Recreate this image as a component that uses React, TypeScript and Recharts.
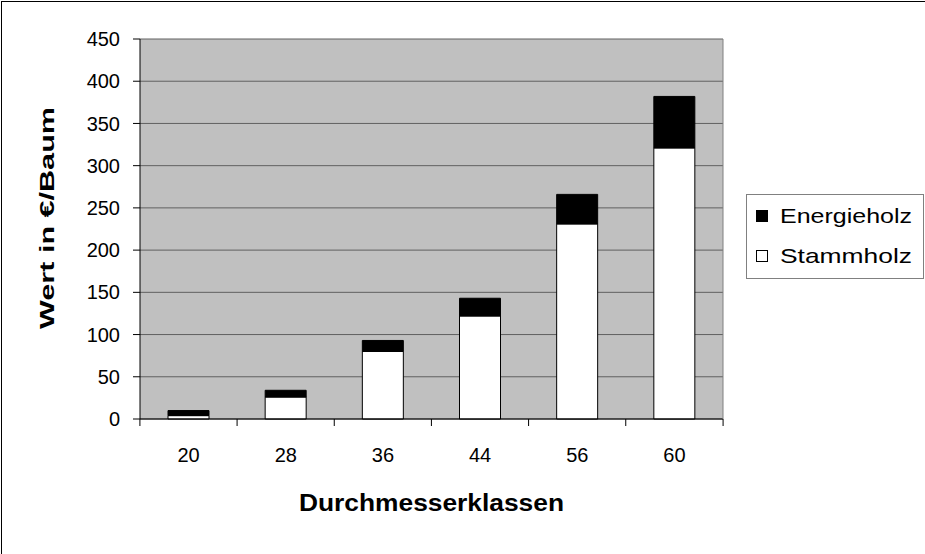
import React from 'react';
import { BarChart, Bar, XAxis, YAxis, CartesianGrid, Legend } from 'recharts';

// Durchmesserklassen (cm) and value per tree in €
const klassen = ['20', '28', '36', '44', '56', '60'];
const stammholz = [4, 26, 80, 122, 231, 321];
const energieholz = [6, 8, 13, 21, 35, 61];
const yTicks = [0, 50, 100, 150, 200, 250, 300, 350, 400, 450];

const data = klassen.map((klasse, i) => ({
  klasse,
  stammholz: stammholz[i],
  energieholz: energieholz[i],
}));

const FONT = '"Liberation Sans", Arial, sans-serif';
const W = 925;
const H = 554;
const PLOT_LEFT = 140;
const PLOT_RIGHT = 724;
const PLOT_TOP = 39;
const PLOT_BOTTOM = 419;
const HALF_BAND = (PLOT_RIGHT - PLOT_LEFT) / klassen.length / 2;

function XTick(props: any) {
  const { x, y, payload, index } = props;
  const last = index === klassen.length - 1;
  return (
    <g>
      <line x1={x - HALF_BAND} x2={x - HALF_BAND} y1={y} y2={y + 7} stroke="#000" />
      {last && <line x1={x + HALF_BAND} x2={x + HALF_BAND} y1={y} y2={y + 7} stroke="#000" />}
      <text x={x} y={y + 43} textAnchor="middle" fontSize={20} fontFamily={FONT} fill="#000">
        {payload.value}
      </text>
    </g>
  );
}

function LegendBox() {
  const items = [
    { label: 'Energieholz', fill: '#000', y: 223 - 194 },
    { label: 'Stammholz', fill: '#fff', y: 263 - 194 },
  ];
  return (
    <svg width={178} height={85} style={{ display: 'block' }}>
      <rect x={0.5} y={0.5} width={177} height={84} fill="#fff" stroke="#808080" />
      {items.map((it) => (
        <g key={it.label}>
          <rect x={10.5} y={it.y - 12.5} width={11} height={11} fill={it.fill} stroke="#000" />
          <text
            x={34}
            y={it.y}
            fontSize={21}
            fontFamily={FONT}
            fill="#000"
            textLength={132}
            lengthAdjust="spacingAndGlyphs"
          >
            {it.label}
          </text>
        </g>
      ))}
    </svg>
  );
}

export default function App() {
  return (
    <div style={{ position: 'absolute', left: 0, top: 0, width: W, height: H, background: '#fff', overflow: 'hidden' }}>
      <div
        style={{
          position: 'absolute',
          left: 1,
          top: 1,
          width: W - 1,
          height: H - 1,
          borderLeft: '1px solid #000',
          borderTop: '1px solid #000',
          boxSizing: 'border-box',
        }}
      />
      <BarChart
        width={W}
        height={H}
        data={data}
        margin={{ top: PLOT_TOP, right: W - PLOT_RIGHT, left: 0, bottom: 0 }}
        barSize={41}
        style={{ fontFamily: FONT }}
      >
        <CartesianGrid fill="#C0C0C0" vertical={false} stroke="#606060" strokeOpacity={1} />
        <XAxis
          dataKey="klasse"
          height={H - PLOT_BOTTOM}
          tickSize={0}
          tickMargin={0}
          tickLine={false}
          axisLine={{ stroke: '#000' }}
          tick={<XTick />}
          interval={0}
          label={{
            content: (p: any) => (
              <text
                x={p.viewBox.x + p.viewBox.width / 2}
                y={p.viewBox.y + 92}
                textAnchor="middle"
                fontSize={23}
                fontWeight="bold"
                fontFamily={FONT}
                fill="#000"
                textLength={265}
                lengthAdjust="spacingAndGlyphs"
              >
                Durchmesserklassen
              </text>
            ),
          }}
        />
        <YAxis
          width={PLOT_LEFT}
          domain={[0, 450]}
          ticks={yTicks}
          interval={0}
          tickSize={7}
          tickMargin={13}
          tickLine={{ stroke: '#000' }}
          axisLine={{ stroke: '#000' }}
          tick={{ fontSize: 20, fill: '#000', fontFamily: FONT }}
          label={{
            content: (p: any) => {
              const cx = 54;
              const cy = p.viewBox.y + p.viewBox.height / 2 - 11;
              return (
                <text
                  x={cx}
                  y={cy}
                  transform={`rotate(-90, ${cx}, ${cy})`}
                  textAnchor="middle"
                  fontSize={21}
                  fontWeight="bold"
                  fontFamily={FONT}
                  fill="#000"
                  textLength={222}
                  lengthAdjust="spacingAndGlyphs"
                >
                  Wert in €/Baum
                </text>
              );
            },
          }}
        />
        <YAxis
          yAxisId="frame"
          orientation="right"
          width={1}
          domain={[0, 450]}
          tick={false}
          tickLine={false}
          axisLine={{ stroke: '#808080' }}
        />
        <Legend
          content={<LegendBox />}
          layout="horizontal"
          verticalAlign="middle"
          align="center"
          wrapperStyle={{ position: 'absolute', left: 746, top: 194, width: 178, height: 85 }}
        />
        <Bar dataKey="stammholz" name="Stammholz" stackId="a" fill="#fff" stroke="#000" strokeWidth={1} isAnimationActive={false} />
        <Bar dataKey="energieholz" name="Energieholz" stackId="a" fill="#000" stroke="#000" strokeWidth={1} isAnimationActive={false} />
      </BarChart>
    </div>
  );
}
